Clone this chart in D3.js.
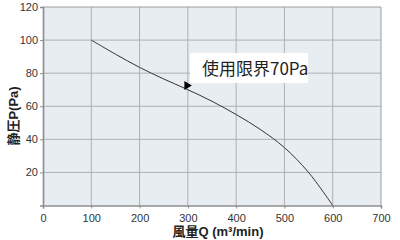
<!DOCTYPE html>
<html>
<head>
<meta charset="utf-8">
<script src="https://cdn.jsdelivr.net/npm/d3@7"></script>
<style>
  body { margin: 0; background: #fff; }
  svg { display: block; font-family: "Liberation Sans", Arial, "Noto Sans CJK JP", sans-serif; }
  .tick-label { font-size: 11px; fill: #333; }
  .axis-title { font-size: 13px; font-weight: bold; fill: #222; font-family: "Liberation Sans", Arial, "Noto Sans CJK JP", sans-serif; }
</style>
</head>
<body>
<svg id="chart" width="400" height="240"></svg>
<script>
// Fan curve: airflow (m3/min) vs static pressure (Pa)
var flow = [100, 150, 200, 250, 300, 350, 400, 450, 500, 550, 600];
var pressure = [100, 91.5, 83.5, 76.5, 70, 63, 55, 46, 35, 20, 0];

var xTicks = [0, 100, 200, 300, 400, 500, 600, 700];
var yTicks = [20, 40, 60, 80, 100, 120];

var limitLabel = "使用限界70Pa";
var limitFlow = 300;
var limitPressure = 72.5;

var svg = d3.select("#chart");
// note: "top" is reserved on window, so use plot* names
var plotL = 43, plotR = 381, plotT = 7, plotB = 205.5;

var x = d3.scaleLinear().domain([0, 700]).range([plotL, plotR]);
var y = d3.scaleLinear().domain([0, 120]).range([plotB, plotT]);

// plot background
svg.append("rect")
  .attr("x", plotL).attr("y", plotT)
  .attr("width", plotR - plotL).attr("height", plotB - plotT)
  .attr("fill", "#e8edf1");

// grid lines
svg.append("g").selectAll("line")
  .data(xTicks.slice(1, -1))
  .enter().append("line")
  .attr("x1", function(d) { return x(d); })
  .attr("x2", function(d) { return x(d); })
  .attr("y1", plotT).attr("y2", plotB)
  .attr("stroke", "#aeb1b4").attr("stroke-width", 1);

svg.append("g").selectAll("line")
  .data(yTicks.slice(0, -1))
  .enter().append("line")
  .attr("x1", plotL).attr("x2", plotR)
  .attr("y1", function(d) { return y(d); })
  .attr("y2", function(d) { return y(d); })
  .attr("stroke", "#aeb1b4").attr("stroke-width", 1);

// top and right border
svg.append("path")
  .attr("d", "M" + plotL + "," + plotT + "H" + plotR + "V" + plotB)
  .attr("fill", "none").attr("stroke", "#9a9da0").attr("stroke-width", 1);

// axes
var xAxis = svg.append("g")
  .attr("transform", "translate(0," + plotB + ")")
  .call(d3.axisBottom(x).tickValues(xTicks).tickSize(3).tickPadding(4));
xAxis.select(".domain").attr("stroke", "#8a8d90").attr("stroke-width", 1.6);
xAxis.selectAll("line").attr("stroke", "#8a8d90");
xAxis.selectAll("text").attr("class", "tick-label").attr("dy", "0.9em");

var yAxis = svg.append("g")
  .attr("transform", "translate(" + plotL + ",0)")
  .call(d3.axisLeft(y).tickValues(yTicks).tickSize(3).tickPadding(2));
yAxis.select(".domain").attr("stroke", "#8a8d90").attr("stroke-width", 1.6);
yAxis.selectAll("line").attr("stroke", "#8a8d90");
yAxis.selectAll("text").attr("class", "tick-label");

// curve
var line = d3.line()
  .x(function(d, i) { return x(flow[i]); })
  .y(function(d) { return y(d); })
  .curve(d3.curveCatmullRom);

svg.append("path")
  .datum(pressure)
  .attr("d", line)
  .attr("fill", "none")
  .attr("stroke", "#333")
  .attr("stroke-width", 1);

// limit marker and label
var mx = x(limitFlow), my = y(limitPressure);
svg.append("path")
  .attr("d", "M" + (mx - 3.5) + "," + (my - 4.5) + "L" + (mx + 4) + "," + my + "L" + (mx - 3.5) + "," + (my + 4.5) + "Z")
  .attr("fill", "#000");

svg.append("rect")
  .attr("x", 190).attr("y", 53)
  .attr("width", 118).attr("height", 30)
  .attr("fill", "#fff");

svg.append("text")
  .attr("x", 202).attr("y", 75)
  .attr("font-size", "17px")
  .attr("fill", "#222")
  .attr("font-family", "'Noto Sans CJK JP', sans-serif")
  .text(limitLabel);

// axis titles
svg.append("text")
  .attr("class", "axis-title")
  .attr("x", 218).attr("y", 236)
  .attr("text-anchor", "middle")
  .text("風量Q (m³/min)");

svg.append("text")
  .attr("class", "axis-title")
  .attr("transform", "translate(18,116) rotate(-90)")
  .attr("text-anchor", "middle")
  .text("静圧P(Pa)");
</script>
</body>
</html>
